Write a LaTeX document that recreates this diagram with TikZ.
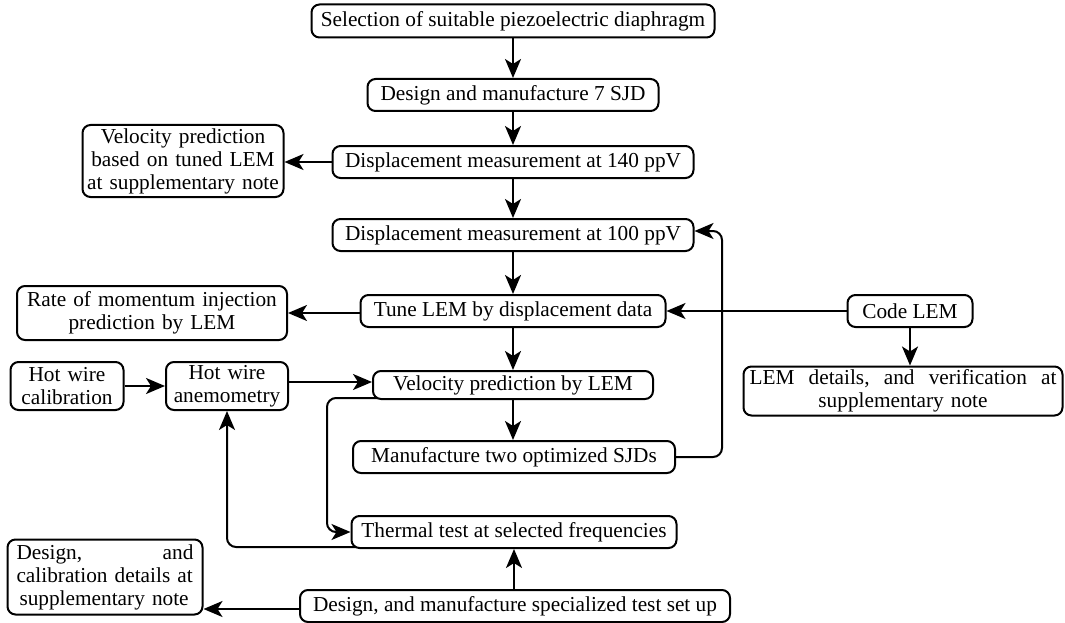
\documentclass[tikz,border=0pt]{standalone}
\usepackage{fontspec}
\setmainfont{Liberation Serif}
\usetikzlibrary{arrows.meta,calc}
\begin{document}
\begin{tikzpicture}[x=1pt,y=1pt,
  box/.style={draw, line width=2pt, rounded corners=8pt, inner sep=3pt,
    font=\fontsize{21.3}{23}\selectfont, align=center},
  arr/.style={line width=2pt, -{Stealth[length=19pt,width=16pt,inset=5pt]}},
  lnk/.style={line width=2pt, rounded corners=9pt, -{Stealth[length=19pt,width=16pt,inset=5pt]}}]
\useasboundingbox (0,0) rectangle (1065,-623);
\node[box, minimum width=403, minimum height=33] (sel) at (513,-21) {Selection of suitable piezoelectric diaphragm};
\node[box, minimum width=291, minimum height=32] (des) at (513,-95) {Design and manufacture 7 SJD};
\node[box, minimum width=361, minimum height=32] (d140) at (513,-162) {Displacement measurement at 140 ppV};
\node[box, minimum width=201, minimum height=72, text width=195] (vpt) at (183,-161) {Velocity prediction\\based on tuned LEM\\at supplementary note};
\node[box, minimum width=361, minimum height=32] (d100) at (513,-235) {Displacement measurement at 100 ppV};
\node[box, minimum width=305, minimum height=32] (tune) at (513,-311) {Tune LEM by displacement data};
\node[box, minimum width=270, minimum height=54, text width=264] (rate) at (152,-313) {Rate of momentum injection\\prediction by LEM};
\node[box, minimum width=125, minimum height=32] (code) at (910,-311) {Code LEM};
\node[box, minimum width=319, minimum height=49, text width=307] (lemd) at (903,-391) {\hbox to \linewidth{LEM\hfill details,\hfill and\hfill verification\hfill at}\\supplementary note};
\node[box, minimum width=113, minimum height=48, text width=107] (hwc) at (67,-386) {Hot wire\\calibration};
\node[box, minimum width=122, minimum height=48, text width=116] (hwa) at (227,-386) {Hot wire\\anemometry};
\node[box, minimum width=280, minimum height=28] (vlem) at (513,-385) {Velocity prediction by LEM};
\node[box, minimum width=322, minimum height=32] (man) at (514,-457) {Manufacture two optimized SJDs};
\node[box, minimum width=325, minimum height=32] (therm) at (514,-532) {Thermal test at selected frequencies};
\node[box, minimum width=195, minimum height=75, text width=177, align=left] (dcal) at (105,-577) {\hbox to \linewidth{Design,\hfill and}\\calibration details at\\\hspace*{3pt}supplementary note};
\node[box, minimum width=430, minimum height=32] (dset) at (515,-606) {Design, and manufacture specialized test set up};
\coordinate (c1) at (327,-532);
\coordinate (c2) at (722,-457);
% straight connectors
\draw[arr] (sel.south) -- (sel.south |- des.north);
\draw[arr] (des.south) -- (des.south |- d140.north);
\draw[arr] (d140.south) -- (d140.south |- d100.north);
\draw[arr] (d100.south) -- (d100.south |- tune.north);
\draw[arr] (tune.south) -- (tune.south |- vlem.north);
\draw[arr] (vlem.south) -- (vlem.south |- man.north);
\draw[arr] (d140.west) -- (d140.west -| vpt.east);
\draw[arr] ([yshift=-2pt]tune.west) -- ([yshift=-2pt]tune.west -| rate.east);
\draw[arr] (code.west) -- (code.west -| tune.east);
\draw[arr] (code.south) -- (code.south |- lemd.north);
\draw[arr] (hwc.east) -- (hwc.east -| hwa.west);
\draw[arr] ([yshift=4pt]hwa.east) -- ([yshift=4pt]hwa.east -| vlem.west);
\draw[arr] (dset.north -| therm.south) -- (therm.south);
\draw[arr] ([yshift=-3pt]dset.west) -- ([yshift=-3pt]dset.west -| dcal.east);
% routed connectors
\draw[lnk] (man.east) -- (c2) |- ([yshift=4pt]d100.east);
\draw[lnk] ([xshift=5pt,yshift=2pt]vlem.south west) -| (c1) -- (therm.west);
\draw[lnk] ([xshift=5pt,yshift=2pt]therm.south west) -| (hwa.south);
\end{tikzpicture}
\end{document}
